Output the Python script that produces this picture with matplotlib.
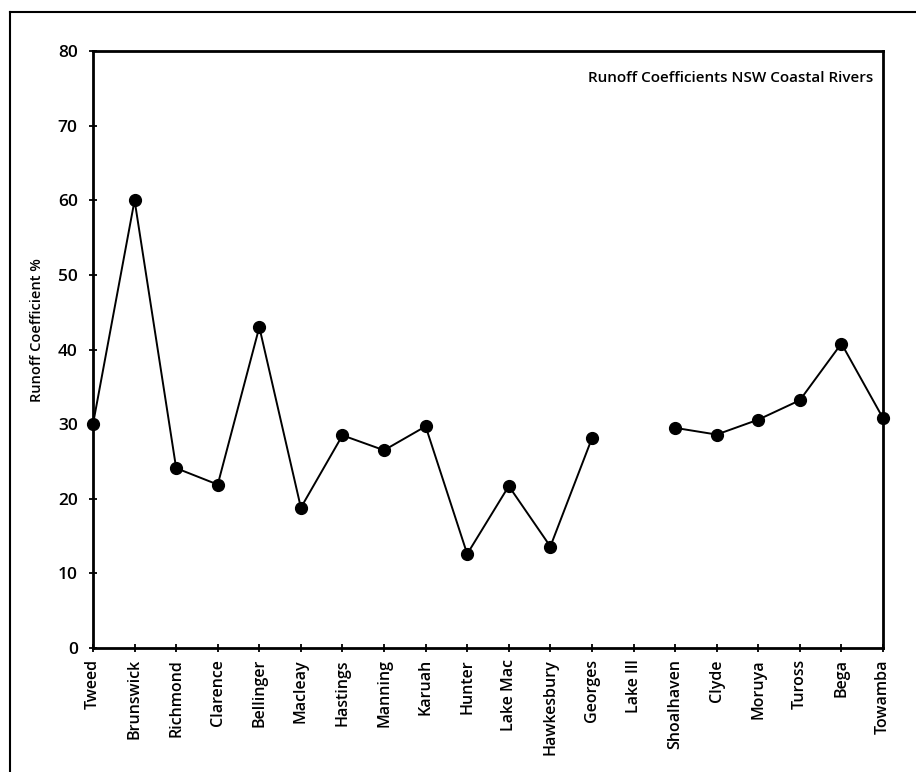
import numpy as np
import matplotlib
matplotlib.use("Agg")
import matplotlib.pyplot as plt
from matplotlib.lines import Line2D

plt.rcParams['font.family'] = ['Open Sans', 'DejaVu Sans']

rivers = ["Tweed", "Brunswick", "Richmond", "Clarence", "Bellinger", "Macleay",
          "Hastings", "Manning", "Karuah", "Hunter", "Lake Mac", "Hawkesbury",
          "Georges", "Lake Ill", "Shoalhaven", "Clyde", "Moruya", "Tuross",
          "Bega", "Towamba"]
runoff = [30.0, 60.0, 24.1, 21.9, 43.0, 18.8, 28.5, 26.5, 29.7, 12.6, 21.7,
          13.6, 28.1, np.nan, 29.5, 28.6, 30.6, 33.2, 40.8, 30.8]
yticks = [0, 10, 20, 30, 40, 50, 60, 70, 80]

W, H = 916, 772
fig = plt.figure(figsize=(W / 100, H / 100), dpi=100)
ax = fig.add_axes([93 / W, 1 - 648 / H, (883 - 93) / W, (648 - 51) / H])

x = np.arange(len(rivers))
ax.plot(x, runoff, color='black', lw=1.4, marker='o', markersize=8.5,
        markerfacecolor='black', markeredgecolor='black', clip_on=False, zorder=3)

ax.set_xlim(0, len(rivers) - 1)
ax.set_ylim(0, 80)
ax.set_yticks(yticks)
ax.set_yticklabels([str(v) for v in yticks], fontsize=12.5, fontweight='semibold')
ax.set_xticks(x)
ax.set_xticklabels(rivers, rotation=90, fontsize=11.5, fontweight='semibold')
ax.tick_params(axis='y', direction='inout', length=6, width=1.3, pad=8)
ax.tick_params(axis='x', direction='inout', length=6, width=1.3, pad=5)
for s in ax.spines.values():
    s.set_linewidth(2.0)

ax.set_ylabel("Runoff Coefficient %", fontsize=10.5, fontweight='semibold')
ax.yaxis.set_label_coords(-0.062, 0.533)
ax.text(0.988, 0.955, "Runoff Coefficients NSW Coastal Rivers", transform=ax.transAxes,
        ha='right', va='center', fontsize=11, fontweight='semibold')

# outer partial frame of the scanned figure
fig.add_artist(Line2D([10 / W, 1.0], [1 - 12 / H, 1 - 12 / H], color='black', lw=1.5,
                      transform=fig.transFigure))
fig.add_artist(Line2D([10 / W, 10 / W], [1 - 12 / H, 0.0], color='black', lw=1.5,
                      transform=fig.transFigure))

fig.savefig("out.png", dpi=100)
